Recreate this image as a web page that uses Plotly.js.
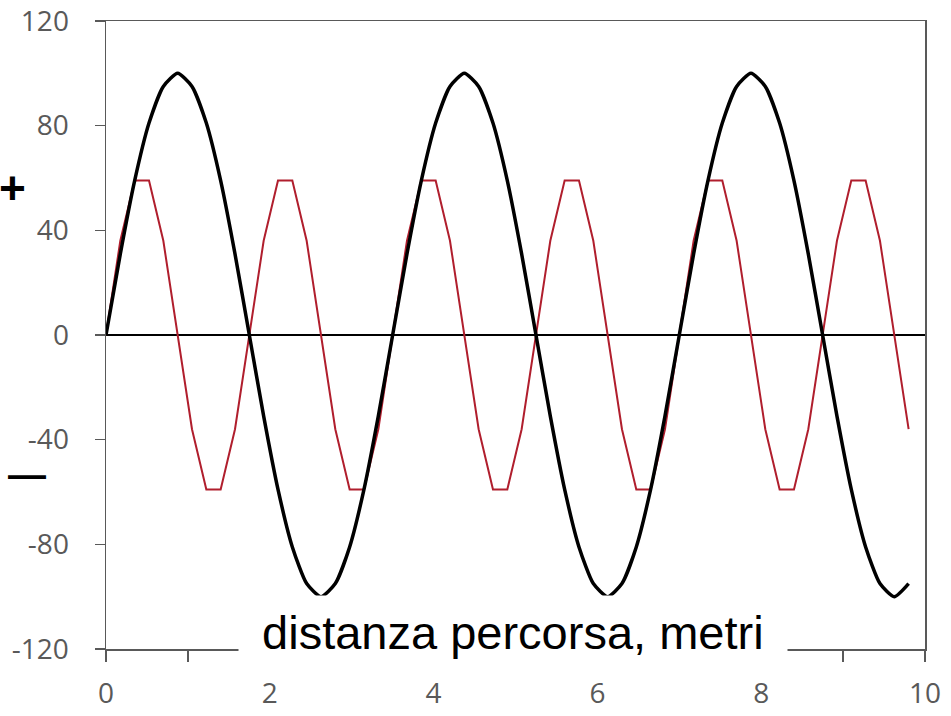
<!DOCTYPE html>
<html>
<head>
<meta charset="utf-8">
<script src="https://cdn.plot.ly/plotly-3.0.1.min.js"></script>
<style>html,body{margin:0;padding:0;background:#fff;}#chart{width:951px;height:716px;}</style>
</head>
<body>
<div id="chart"></div>
<script>
const distance = [0, 0.175, 0.35, 0.525, 0.7, 0.875, 1.05, 1.225, 1.4, 1.575, 1.75, 1.925, 2.1, 2.275, 2.45, 2.625, 2.8, 2.975, 3.15, 3.325, 3.5, 3.675, 3.85, 4.025, 4.2, 4.375, 4.55, 4.725, 4.9, 5.075, 5.25, 5.425, 5.6, 5.775, 5.95, 6.125, 6.3, 6.475, 6.65, 6.825, 7.0, 7.175, 7.35, 7.525, 7.7, 7.875, 8.05, 8.225, 8.4, 8.575, 8.75, 8.925, 9.1, 9.275, 9.45, 9.625, 9.8];
const blackWave = [0, 31, 59, 81, 95, 100, 95, 81, 59, 31, 0, -31, -59, -81, -95, -100, -95, -81, -59, -31,
                   0, 31, 59, 81, 95, 100, 95, 81, 59, 31, 0, -31, -59, -81, -95, -100, -95, -81, -59, -31,
                   0, 31, 59, 81, 95, 100, 95, 81, 59, 31, 0, -31, -59, -81, -95, -100, -95];
const redWave = [0, 36, 59, 59, 36, 0, -36, -59, -59, -36,
                 0, 36, 59, 59, 36, 0, -36, -59, -59, -36,
                 0, 36, 59, 59, 36, 0, -36, -59, -59, -36,
                 0, 36, 59, 59, 36, 0, -36, -59, -59, -36,
                 0, 36, 59, 59, 36, 0, -36, -59, -59, -36,
                 0, 36, 59, 59, 36, 0, -36];
const xTickVals = [0, 1, 2, 3, 4, 5, 6, 7, 8, 9, 10];
const xTickText = ["0", "", "2", "", "4", "", "6", "", "8", "", "10"];
const yTickVals = [-120, -80, -40, 0, 40, 80, 120];
const yTickText = ["-120", "-80", "-40", "0", "40", "80", "120"];
const xTitle = "\u00a0distanza percorsa, metri\u00a0";

const axisColor = "#595959";
const tickFont = {family: "Open Sans, sans-serif", size: 28, color: "#595959"};

const data = [
  {x: distance, y: redWave, type: "scatter", mode: "lines", line: {color: "#b01e2d", width: 2}, hoverinfo: "skip"},
  {x: distance, y: blackWave, type: "scatter", mode: "lines", line: {color: "#000000", width: 3.5, shape: "spline", smoothing: 0.6}, hoverinfo: "skip"}
];

const layout = {
  width: 951, height: 716,
  margin: {l: 106, r: 26, t: 21, b: 67},
  paper_bgcolor: "#fff", plot_bgcolor: "#fff",
  showlegend: false,
  xaxis: {
    range: [0, 10], tickvals: xTickVals, ticktext: xTickText,
    showgrid: false, zeroline: false,
    showline: true, linecolor: axisColor, linewidth: 1.5, mirror: true,
    ticks: "outside", ticklen: 11, tickwidth: 1.5, tickcolor: axisColor,
    tickfont: tickFont, ticklabelstandoff: 8
  },
  yaxis: {
    range: [-120, 120], tickvals: yTickVals, ticktext: yTickText,
    showgrid: false, zeroline: true, zerolinecolor: "#000", zerolinewidth: 2,
    showline: true, linecolor: axisColor, linewidth: 1.5, mirror: true,
    ticks: "outside", ticklen: 10, tickwidth: 1.5, tickcolor: axisColor,
    tickfont: tickFont, ticklabelstandoff: 20
  },
  annotations: [
    {text: xTitle, xref: "paper", yref: "paper", x: 0.497, y: 0.027, xanchor: "center", yanchor: "middle",
     showarrow: false, bgcolor: "#fff", borderpad: 10,
     font: {family: "Liberation Sans, Arial, sans-serif", size: 47, color: "#000"}},
    {text: "<b>+</b>", xref: "paper", yref: "paper", x: -0.114, y: 0.734, xanchor: "center", yanchor: "middle",
     showarrow: false, font: {family: "Liberation Sans, Arial, sans-serif", size: 46, color: "#000"}},
    {text: "<b>\u2014</b>", xref: "paper", yref: "paper", x: -0.0965, y: 0.277, xanchor: "center", yanchor: "middle",
     showarrow: false, font: {family: "Liberation Sans, Arial, sans-serif", size: 38, color: "#000"}}
  ]
};

Plotly.newPlot("chart", data, layout, {displayModeBar: false, staticPlot: true});
</script>
</body>
</html>
